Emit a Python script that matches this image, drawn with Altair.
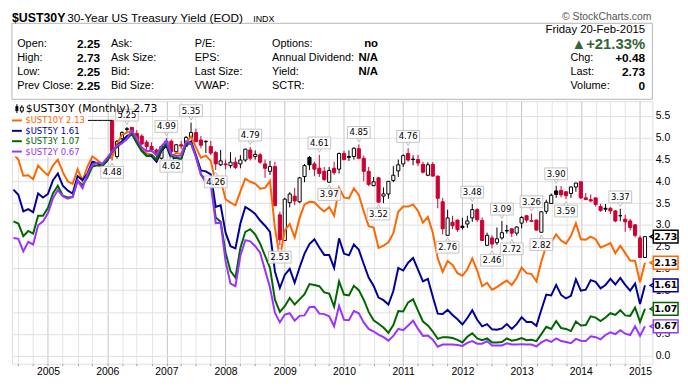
import altair as alt
import pandas as pd

FONT = "Liberation Sans"
VFONT = "DejaVu Sans"
RED = "#cc0033"
ORANGE = "#ff6600"
NAVY = "#000099"
GREEN = "#006600"
PURPLE = "#9933ff"

# month index: 0 = Jan 2005; lines start Jun 2004
FIRST_MONTH = -7

ust10 = [4.62, 4.50, 4.13, 4.14, 4.05, 4.36, 4.24,
         4.14, 4.36, 4.50, 4.21, 4.00, 3.94, 4.28, 4.02, 4.34, 4.57, 4.49, 4.39,
         4.53, 4.55, 4.86, 5.07, 5.12, 5.15, 4.99, 4.74, 4.64, 4.61, 4.46, 4.71,
         4.83, 4.56, 4.65, 4.63, 4.89, 5.03, 4.78, 4.54, 4.59, 4.47, 3.97, 4.03,
         3.59, 3.51, 3.45, 3.77, 4.06, 3.99, 3.95, 3.83, 3.85, 4.01, 2.93, 2.25,
         2.87, 3.02, 2.71, 3.16, 3.47, 3.53, 3.52, 3.40, 3.31, 3.41, 3.21, 3.85,
         3.63, 3.61, 3.84, 3.69, 3.31, 2.97, 2.94, 2.47, 2.52, 2.60, 2.81, 3.30,
         3.42, 3.42, 3.47, 3.32, 3.05, 3.18, 2.82, 2.23, 1.92, 2.17, 2.08, 1.89,
         1.83, 1.98, 2.23, 1.95, 1.59, 1.67, 1.51, 1.57, 1.65, 1.72, 1.62, 1.78,
         2.02, 1.89, 1.87, 1.70, 2.16, 2.52, 2.60, 2.78, 2.64, 2.57, 2.75, 3.04,
         2.67, 2.66, 2.73, 2.67, 2.48, 2.53, 2.58, 2.35, 2.52, 2.35, 2.18, 2.17,
         1.68, 2.13]

ust5 = [3.81, 3.69, 3.31, 3.36, 3.29, 3.72, 3.63,
        3.71, 4.02, 4.18, 3.90, 3.79, 3.72, 4.12, 4.03, 4.18, 4.45, 4.42, 4.35,
        4.47, 4.69, 4.82, 4.92, 5.04, 5.10, 4.90, 4.70, 4.59, 4.58, 4.45, 4.70,
        4.82, 4.52, 4.54, 4.51, 4.86, 4.92, 4.60, 4.25, 4.23, 4.16, 3.41, 3.45,
        2.82, 2.51, 2.46, 3.03, 3.41, 3.34, 3.25, 3.10, 2.98, 2.84, 1.93, 1.55,
        1.85, 1.99, 1.67, 2.02, 2.34, 2.56, 2.67, 2.48, 2.31, 2.31, 2.01, 2.69,
        2.34, 2.30, 2.55, 2.43, 2.10, 1.79, 1.60, 1.33, 1.27, 1.17, 1.48, 2.01,
        1.95, 2.13, 2.24, 1.97, 1.70, 1.76, 1.35, 0.96, 0.95, 1.05, 0.93, 0.83,
        0.71, 0.86, 1.04, 0.82, 0.67, 0.72, 0.60, 0.59, 0.62, 0.72, 0.61, 0.72,
        0.88, 0.77, 0.77, 0.68, 1.05, 1.40, 1.38, 1.62, 1.39, 1.31, 1.37, 1.75,
        1.49, 1.51, 1.73, 1.69, 1.54, 1.62, 1.76, 1.63, 1.78, 1.62, 1.49, 1.65,
        1.18, 1.61]

ust3 = [3.08, 3.03, 2.74, 2.86, 2.80, 3.21, 3.21,
        3.39, 3.72, 3.90, 3.67, 3.63, 3.64, 4.02, 3.91, 4.09, 4.34, 4.37, 4.35,
        4.48, 4.69, 4.79, 4.89, 4.97, 5.09, 4.88, 4.70, 4.58, 4.61, 4.50, 4.74,
        4.86, 4.57, 4.54, 4.51, 4.86, 4.87, 4.56, 4.16, 4.04, 3.98, 3.17, 3.07,
        2.36, 1.94, 1.79, 2.47, 2.84, 2.90, 2.78, 2.57, 2.29, 2.01, 1.28, 1.00,
        1.13, 1.32, 1.17, 1.29, 1.41, 1.64, 1.62, 1.59, 1.45, 1.42, 1.12, 1.70,
        1.40, 1.38, 1.60, 1.50, 1.28, 1.00, 0.81, 0.73, 0.64, 0.52, 0.70, 1.02,
        1.01, 1.22, 1.29, 1.03, 0.78, 0.69, 0.55, 0.38, 0.42, 0.42, 0.40, 0.36,
        0.30, 0.43, 0.51, 0.39, 0.35, 0.39, 0.30, 0.30, 0.31, 0.39, 0.34, 0.36,
        0.40, 0.35, 0.36, 0.33, 0.49, 0.66, 0.61, 0.79, 0.63, 0.61, 0.56, 0.78,
        0.69, 0.70, 0.90, 0.87, 0.79, 0.87, 0.97, 0.93, 1.04, 0.92, 0.91, 1.10,
        0.77, 1.07]

ust2 = [2.70, 2.68, 2.39, 2.61, 2.55, 2.99, 3.08,
        3.27, 3.61, 3.80, 3.66, 3.60, 3.64, 4.02, 3.84, 4.17, 4.38, 4.43, 4.40,
        4.54, 4.69, 4.82, 4.87, 4.98, 5.16, 4.97, 4.78, 4.69, 4.70, 4.61, 4.81,
        4.93, 4.62, 4.58, 4.59, 4.92, 4.87, 4.56, 4.15, 3.97, 3.94, 3.04, 3.05,
        2.16, 1.65, 1.59, 2.29, 2.65, 2.62, 2.51, 2.36, 1.96, 1.56, 0.98, 0.76,
        0.94, 0.97, 0.80, 0.91, 0.92, 1.11, 1.12, 0.96, 0.95, 0.90, 0.67, 1.14,
        0.82, 0.81, 1.02, 0.97, 0.76, 0.61, 0.55, 0.48, 0.42, 0.34, 0.45, 0.61,
        0.58, 0.69, 0.80, 0.61, 0.45, 0.46, 0.36, 0.20, 0.25, 0.25, 0.25, 0.24,
        0.22, 0.29, 0.33, 0.27, 0.27, 0.33, 0.23, 0.23, 0.23, 0.28, 0.25, 0.25,
        0.26, 0.25, 0.25, 0.21, 0.30, 0.36, 0.31, 0.39, 0.33, 0.31, 0.28, 0.38,
        0.34, 0.33, 0.44, 0.42, 0.37, 0.47, 0.53, 0.49, 0.58, 0.50, 0.47, 0.67,
        0.45, 0.67]

# $UST30Y monthly candles, Feb 2006 (month 13) .. Feb 2015 (month 121)
CANDLE_START = 13
FLAT30 = 5.40  # value carried flat before the Feb 2006 reissue
c_open = [5.40, 4.57, 4.98, 5.19, 5.24, 5.10, 5.04, 4.90, 4.80, 4.72, 4.53,
          4.81, 4.92, 4.68, 4.84, 4.81, 5.01, 5.12, 4.95, 4.91, 4.80, 4.66, 4.38,
          4.40, 4.36, 4.44, 4.40, 4.49, 4.72, 4.57, 4.61, 4.40, 4.23, 4.34, 3.23,
          2.64, 3.51, 3.66, 3.53, 4.11, 4.55, 4.40, 4.30, 4.23, 3.98, 4.30, 4.28,
          4.64, 4.55, 4.57, 4.75, 4.53, 4.23, 3.90, 4.08, 3.66, 3.71, 4.02, 4.24,
          4.40, 4.64, 4.50, 4.50, 4.39, 4.14, 4.39, 4.12, 3.53, 2.76, 3.06, 3.11,
          2.97, 3.02, 3.16, 3.35, 3.10, 2.53, 2.70, 2.59, 2.70, 2.86, 2.91, 2.81,
          3.04, 3.21, 3.08, 3.11, 2.83, 3.31, 3.49, 3.78, 3.79, 3.76, 3.72, 3.87,
          3.99, 3.62, 3.58, 3.62, 3.42, 3.38, 3.38, 3.32, 3.21, 3.13, 3.09, 3.00,
          2.70, 2.25]
c_high = [5.40, 4.95, 5.15, 5.25, 5.24, 5.18, 5.08, 4.95, 4.90, 4.75, 4.82,
          4.99, 4.96, 4.86, 4.93, 5.04, 5.35, 5.21, 5.04, 4.94, 4.93, 4.70, 4.72,
          4.50, 4.67, 4.55, 4.60, 4.75, 4.79, 4.71, 4.65, 4.50, 4.47, 4.45, 3.30,
          3.62, 3.75, 3.85, 4.10, 4.40, 4.58, 4.45, 4.61, 4.33, 4.33, 4.45, 4.66,
          4.70, 4.71, 4.78, 4.85, 4.59, 4.33, 4.10, 4.10, 3.86, 4.00, 4.35, 4.50,
          4.62, 4.76, 4.60, 4.61, 4.45, 4.44, 4.44, 4.13, 3.62, 3.35, 3.21, 3.12,
          3.16, 3.21, 3.48, 3.38, 3.17, 2.82, 2.76, 2.94, 3.09, 3.00, 2.92, 2.97,
          3.20, 3.23, 3.26, 3.12, 3.31, 3.58, 3.72, 3.90, 3.89, 3.77, 3.88, 3.97,
          3.99, 3.73, 3.70, 3.63, 3.48, 3.48, 3.41, 3.34, 3.37, 3.23, 3.14, 3.02,
          2.75, 2.73]
c_low = [4.48, 4.52, 4.95, 5.12, 5.05, 4.90, 4.83, 4.72, 4.68, 4.51, 4.50,
         4.78, 4.62, 4.63, 4.74, 4.79, 5.00, 4.91, 4.76, 4.65, 4.60, 4.26, 4.35,
         4.28, 4.30, 4.28, 4.30, 4.45, 4.48, 4.50, 4.40, 4.08, 4.15, 3.44, 2.53,
         2.64, 3.40, 3.45, 3.50, 3.98, 4.26, 4.12, 4.10, 4.01, 3.97, 4.15, 4.18,
         4.48, 4.47, 4.50, 4.51, 4.00, 3.89, 3.89, 3.52, 3.50, 3.60, 3.98, 4.10,
         4.33, 4.45, 4.37, 4.35, 4.18, 4.12, 4.11, 3.38, 2.78, 2.76, 2.90, 2.84,
         2.89, 2.93, 3.07, 3.07, 2.64, 2.52, 2.46, 2.54, 2.66, 2.80, 2.72, 2.75,
         2.92, 3.05, 3.07, 2.87, 2.82, 3.25, 3.48, 3.62, 3.63, 3.59, 3.62, 3.76,
         3.59, 3.57, 3.52, 3.42, 3.30, 3.30, 3.25, 3.06, 3.08, 2.84, 2.87, 2.71,
         2.25, 2.25]
c_close = [4.68, 4.92, 5.12, 5.21, 5.10, 4.94, 4.86, 4.80, 4.72, 4.60, 4.80,
           4.92, 4.68, 4.84, 4.81, 5.01, 5.12, 4.91, 4.83, 4.92, 4.65, 4.40, 4.47,
           4.38, 4.44, 4.32, 4.49, 4.74, 4.53, 4.62, 4.44, 4.30, 4.34, 3.44, 2.66,
           3.59, 3.71, 3.55, 4.08, 4.36, 4.38, 4.28, 4.18, 4.04, 4.25, 4.20, 4.64,
           4.50, 4.57, 4.76, 4.53, 4.23, 3.93, 3.99, 3.52, 3.71, 4.00, 4.14, 4.38,
           4.59, 4.49, 4.51, 4.42, 4.21, 4.38, 4.12, 3.61, 2.91, 3.16, 2.98, 2.89,
           2.94, 3.09, 3.35, 3.12, 2.64, 2.76, 2.56, 2.68, 2.82, 2.87, 2.81, 2.95,
           3.17, 3.11, 3.10, 2.88, 3.30, 3.52, 3.68, 3.70, 3.69, 3.67, 3.87, 3.96,
           3.62, 3.58, 3.55, 3.47, 3.33, 3.36, 3.32, 3.09, 3.21, 3.07, 2.94, 2.76,
           2.25, 2.73]

# swing-point annotations
ann_high_m = [16, 24, 29, 41, 55, 63, 73, 86, 92, 98, 103, 116]
ann_high_v = [5.25, 4.99, 5.35, 4.79, 4.61, 4.85, 4.76, 3.48, 3.09, 3.26, 3.90, 3.37]
ann_low_m = [13, 25, 34, 47, 57, 67, 81, 90, 94, 100, 105]
ann_low_v = [4.48, 4.62, 4.26, 2.53, 3.97, 3.52, 2.76, 2.46, 2.72, 2.82, 3.59]

series_names = ["$UST10Y", "$UST5Y", "$UST3Y", "$UST2Y"]
series_colors = [ORANGE, NAVY, GREEN, PURPLE]
series_last = [2.13, 1.61, 1.07, 0.67]
last30 = 2.73

# header info
hdr_labels = [["Open:", "High:", "Low:", "Prev Close:"],
              ["Ask:", "Ask Size:", "Bid:", "Bid Size:"],
              ["P/E:", "EPS:", "Last Size:", "VWAP:"],
              ["Options:", "Annual Dividend:", "Yield:", "SCTR:"]]
hdr_ohlc = ["2.25", "2.73", "2.25", "2.25"]
hdr_opts = ["no", "N/A", "N/A", ""]
hdr_date = "Friday  20-Feb-2015"
hdr_pct = "\u25b2+21.33%"
hdr_right_labels = ["Chg:", "Last:", "Volume:"]
hdr_right_vals = ["+0.48", "2.73", "0"]

# ---------------- build ----------------
W, H = 649, 266
xs = alt.Scale(domain=[-7.3, 122.5], nice=False, zero=False)
ys = alt.Scale(domain=[-0.19, 5.84], nice=False, zero=False)
ONE = pd.DataFrame({"a": [0]})

x_axis = alt.Axis(values=list(range(-6, 123, 3)),
                  labelExpr="datum.value % 12 == 0 ? '' + (2005 + datum.value / 12) : ''",
                  grid=True,
                  gridColor=alt.condition("datum.value % 12 == 0", alt.value("#c4c4c4"), alt.value("#e4e4e4")),
                  tickSize=2, tickColor="#999999", domain=False, title="",
                  labelFont=FONT, labelFontSize=10.5, labelColor="#000000",
                  labelPadding=1, labelOverlap=False, labelFlush=False)
y_axis = alt.Axis(orient="right", values=[i * 0.5 for i in range(12)], format=".1f",
                  grid=True, gridColor="#e0e0e0", ticks=False, domain=False, title="",
                  labelFont=FONT, labelFontSize=10.5, labelColor="#000000", labelPadding=3)


def X(field="m"):
    return alt.X(field + ":Q", scale=xs, axis=x_axis)


def Y(field="v"):
    return alt.Y(field + ":Q", scale=ys, axis=y_axis)


def txt(s, x, y, size=11, weight="normal", align="left", color="#000000", font=FONT, baseline="middle"):
    return alt.Chart(ONE).mark_text(text=s, align=align, baseline=baseline, fontSize=size,
                                    fontWeight=weight, color=color, font=font).encode(
        x=alt.value(x), y=alt.value(y))


def box(x1, x2, y1, y2, fill="#ffffff", stroke=None, sw=1):
    kw = dict(fill=fill)
    if stroke:
        kw.update(stroke=stroke, strokeWidth=sw)
    else:
        kw.update(strokeOpacity=0)
    return alt.Chart(ONE).mark_rect(**kw).encode(
        x=alt.value(x1), x2=alt.value(x2), y=alt.value(y1), y2=alt.value(y2))


# candles
cm = list(range(CANDLE_START, CANDLE_START + len(c_close)))
prev = [FLAT30] + c_close[:-1]
ccol = ["#000000" if c >= p else RED for c, p in zip(c_close, prev)]
cfill = [col if c < o else "#ffffff" for col, c, o in zip(ccol, c_close, c_open)]
df_c = pd.DataFrame({"m": cm, "o": c_open, "h": c_high, "l": c_low, "c": c_close,
                     "col": ccol, "fill": cfill})

wick = alt.Chart(df_c).mark_rule(strokeWidth=1).encode(
    x=X(), y=Y("l"), y2="h:Q", color=alt.Color("col:N", scale=None))
body = alt.Chart(df_c).mark_rect(xOffset=-1.6, x2Offset=1.6, strokeWidth=1).encode(
    x=X(), x2="m:Q", y=Y("o"), y2="c:Q",
    fill=alt.Fill("fill:N", scale=None), stroke=alt.Stroke("col:N", scale=None))

flat_m = list(range(FIRST_MONTH, CANDLE_START + 1))
df_flat = pd.DataFrame({"m": flat_m, "v": [FLAT30] * len(flat_m)})
flat = alt.Chart(df_flat).mark_line(color="#000000", strokeWidth=1).encode(x=X(), y=Y())

line_layers = []
for vals, colr in zip([ust10, ust5, ust3, ust2], series_colors):
    d = pd.DataFrame({"m": list(range(FIRST_MONTH, FIRST_MONTH + len(vals))), "v": vals})
    line_layers.append(alt.Chart(d).mark_line(color=colr, strokeWidth=2).encode(x=X(), y=Y()))

# annotations
df_hi = pd.DataFrame({"m": ann_high_m, "v": ann_high_v})
df_lo = pd.DataFrame({"m": ann_low_m, "v": ann_low_v})
ann_layers = []
for d, sgn in [(df_hi, -1), (df_lo, 1)]:
    ann_layers.append(alt.Chart(d).mark_point(
        shape="triangle-down" if sgn < 0 else "triangle-up", filled=True, fill="#ffffff",
        stroke="#bdbdbd", strokeWidth=1, size=22, yOffset=sgn * 4.5, opacity=1).encode(x=X(), y=Y()))
    ann_layers.append(alt.Chart(d).mark_rect(
        fill="#ffffff", fillOpacity=0.85, stroke="#c4c4c4", strokeWidth=1,
        xOffset=-11.5, x2Offset=11.5,
        yOffset=6 if sgn > 0 else -18, y2Offset=18 if sgn > 0 else -6).encode(
        x=X(), x2="m:Q", y=Y(), y2="v:Q"))
    ann_layers.append(alt.Chart(d).mark_text(
        font=VFONT, fontSize=8.6, color="#000000", dy=sgn * 12).encode(
        x=X(), y=Y(), text=alt.Text("v:Q", format=".2f")))

# legend (top-left)
legend_layers = [box(0, 77, 0, 56)]
legend_layers.append(alt.Chart(ONE).mark_rule(color="#000000", strokeWidth=1).encode(
    x=alt.value(5), y=alt.value(3), y2=alt.value(12)))
legend_layers.append(box(3.5, 6.5, 5, 10, fill="#000000"))
legend_layers.append(alt.Chart(ONE).mark_rule(color="#000000", strokeWidth=1).encode(
    x=alt.value(10), y=alt.value(4), y2=alt.value(12)))
legend_layers.append(box(8.5, 11.5, 6, 10, fill="#ffffff", stroke="#000000"))
legend_layers.append(txt("$UST30Y (Monthly) %.2f" % last30, 14, 8, size=11, font=VFONT))
row_y = [19.5, 30, 40.5, 51]
for nm, colr, lv, yy in zip(series_names, series_colors, series_last, row_y):
    legend_layers.append(alt.Chart(ONE).mark_rule(color=colr, strokeWidth=2).encode(
        x=alt.value(0), x2=alt.value(10), y=alt.value(yy)))
    legend_layers.append(txt("%s %.2f" % (nm, lv), 13.5, yy, size=8.6, font=VFONT, color=colr))

# right-side last value tags
df_tag = pd.DataFrame({"v": [last30] + series_last, "col": ["#000000"] + series_colors})
tag_layers = [
    alt.Chart(df_tag).mark_point(shape="triangle-left", filled=True, fill="#ffffff",
                                 strokeWidth=1.5, size=60, opacity=1).encode(
        x=alt.value(650), y=Y(), stroke=alt.Stroke("col:N", scale=None)),
    alt.Chart(df_tag).mark_rect(fill="#ffffff", strokeWidth=1.5, yOffset=-6.5, y2Offset=6.5).encode(
        x=alt.value(650), x2=alt.value(675), y=Y(), y2="v:Q",
        stroke=alt.Stroke("col:N", scale=None)),
    alt.Chart(df_tag).mark_text(font=VFONT, fontWeight="bold", fontSize=9.5, color="#000000").encode(
        x=alt.value(662.5), y=Y(), text=alt.Text("v:Q", format=".2f")),
]

main = alt.layer(wick, body, flat, *line_layers, *ann_layers, *legend_layers, *tag_layers).properties(
    width=W, height=H)

# header
hl = [box(0, W, 13, 90, fill="#ffffff", stroke="#b4b4b4")]
hl.append(txt("$UST30Y", 0, 11.5, size=12.5, weight="bold", baseline="alphabetic"))
hl.append(txt("30-Year US Treasury Yield (EOD)", 56, 11.5, size=12, baseline="alphabetic"))
hl.append(txt("INDX", 244.5, 11.5, size=9, baseline="alphabetic"))
hl.append(txt("\u00a9 StockCharts.com", 648, 7, size=10.5, color="#555555", align="right"))
rows_y = [34.3, 48.3, 62.7, 77]
col_x = [5.3, 100.5, 185.3, 263.6]
for ci, labels in enumerate(hdr_labels):
    for lab, yy in zip(labels, rows_y):
        hl.append(txt(lab, col_x[ci], yy))
for v, yy in zip(hdr_ohlc, rows_y):
    hl.append(txt(v, 89.3, yy, size=12, weight="bold", align="right"))
for v, yy in zip(hdr_opts, rows_y):
    if v:
        hl.append(txt(v, 371, yy, size=11.5, weight="bold", align="right"))
hl.append(txt(hdr_date, 641.6, 20, size=11.5, align="right"))
hl.append(txt(hdr_pct, 641.6, 34.3, size=15, weight="bold", align="right", color="#336633"))
for lab, v, yy in zip(hdr_right_labels, hdr_right_vals, rows_y[1:]):
    hl.append(txt(lab, 566, yy))
    hl.append(txt(v, 641.6, yy, size=12, weight="bold", align="right"))

header = alt.layer(*hl).properties(width=W, height=90, view=alt.ViewBackground(strokeOpacity=0))

chart = alt.vconcat(header, main, spacing=0).properties(padding=0).configure_view(
    stroke="#a8a8a8").configure(font=FONT)

chart.save("out.html", embed_options={"renderer": "svg", "actions": False})
